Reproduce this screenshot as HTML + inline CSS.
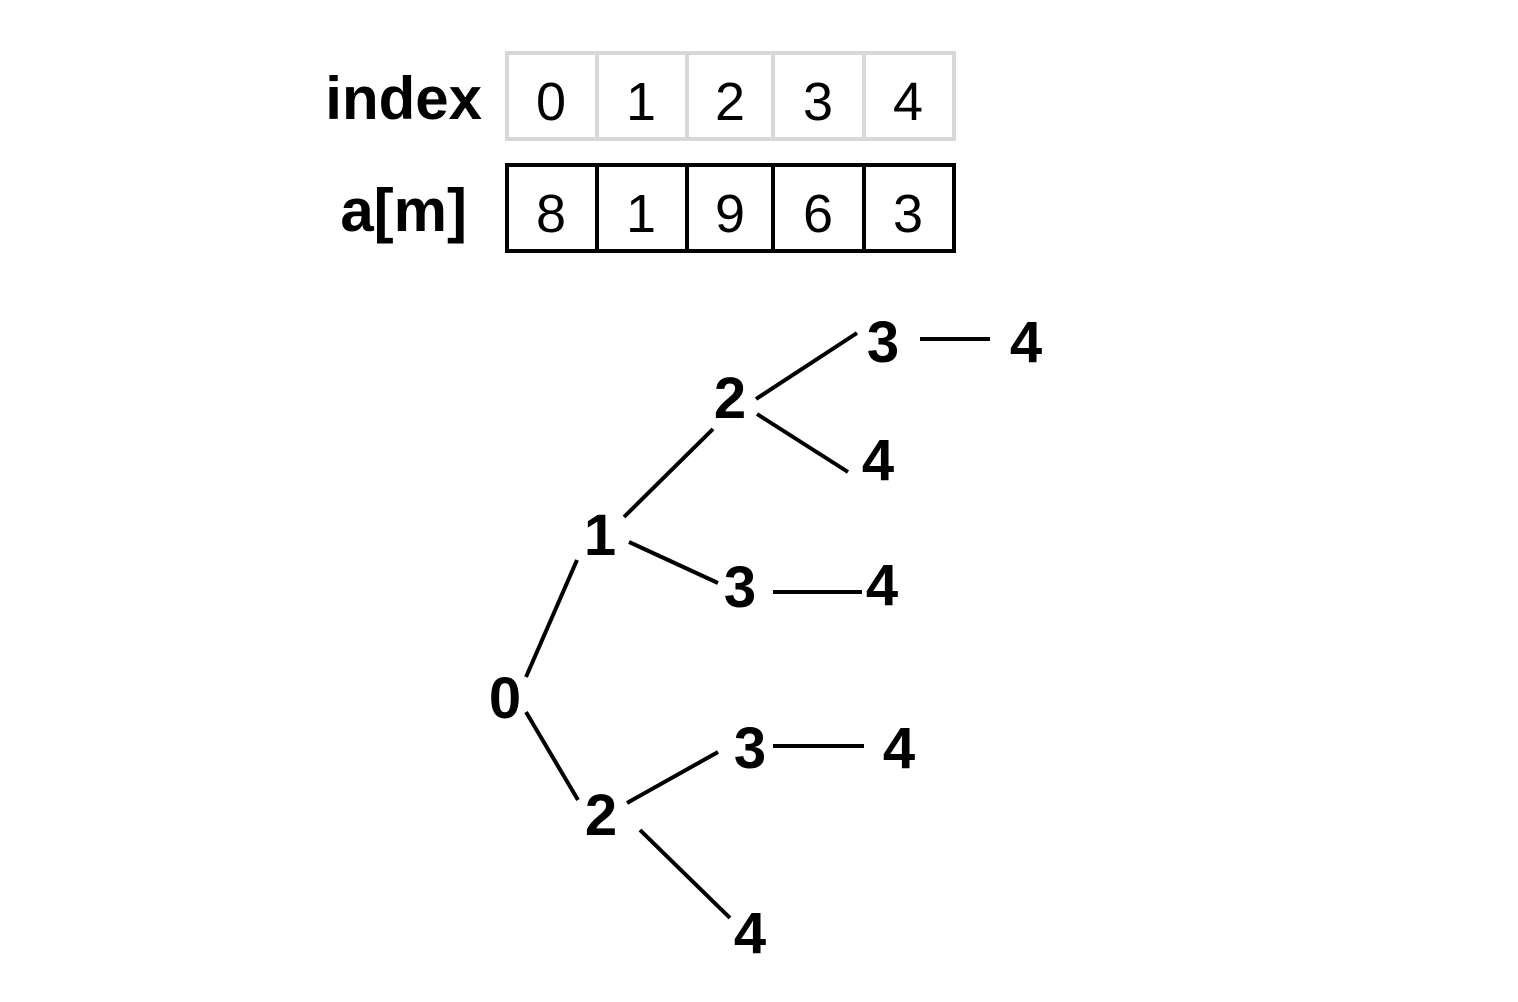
<!DOCTYPE html>
<html><head><meta charset="utf-8"><style>html,body{margin:0;padding:0;background:#fff}svg{display:block}</style></head>
<body>
<svg width="1518" height="1002" viewBox="0 0 1518 1002" xmlns="http://www.w3.org/2000/svg">
<g font-family="Liberation Sans, sans-serif">
<text x="482" y="119" font-size="60" font-weight="bold" text-anchor="end">index</text>
<text x="467" y="231" font-size="60" font-weight="bold" text-anchor="end">a[m]</text>
<g fill="none" stroke="#d8d8d8" stroke-width="4">
<rect x="507" y="53" width="447" height="86"/>
<line x1="597" y1="53" x2="597" y2="139"/><line x1="687" y1="53" x2="687" y2="139"/>
<line x1="773" y1="53" x2="773" y2="139"/><line x1="864" y1="53" x2="864" y2="139"/>
</g>
<g fill="none" stroke="#000" stroke-width="4">
<rect x="507" y="165" width="447" height="86"/>
<line x1="597" y1="165" x2="597" y2="251"/><line x1="687" y1="165" x2="687" y2="251"/>
<line x1="773" y1="165" x2="773" y2="251"/><line x1="864" y1="165" x2="864" y2="251"/>
</g>
<g font-size="54" text-anchor="middle">
<text x="551" y="120">0</text><text x="641" y="120">1</text><text x="730" y="120">2</text><text x="818" y="120">3</text><text x="908" y="120">4</text>
<text x="551" y="232">8</text><text x="641" y="232">1</text><text x="730" y="232">9</text><text x="818" y="232">6</text><text x="908" y="232">3</text>
</g>
<g font-size="58" font-weight="bold" text-anchor="middle">
<text x="883" y="362">3</text><text x="1026" y="362">4</text>
<text x="730" y="418">2</text><text x="878" y="480">4</text>
<text x="600" y="555">1</text><text x="740" y="607">3</text><text x="882" y="605">4</text>
<text x="505" y="718">0</text>
<text x="750" y="768">3</text><text x="899" y="768">4</text>
<text x="601" y="835">2</text><text x="750" y="953">4</text>
</g>
<g stroke="#000" stroke-width="4">
<line x1="756" y1="399" x2="857" y2="333"/>
<line x1="920" y1="339" x2="990" y2="339"/>
<line x1="757" y1="414" x2="848" y2="472"/>
<line x1="624" y1="517" x2="713" y2="429"/>
<line x1="629" y1="542" x2="718" y2="583"/>
<line x1="773" y1="592" x2="862" y2="592"/>
<line x1="526" y1="677" x2="577" y2="560"/>
<line x1="526" y1="712" x2="578" y2="800"/>
<line x1="627" y1="803" x2="718" y2="752"/>
<line x1="773" y1="746" x2="864" y2="746"/>
<line x1="640" y1="830" x2="730" y2="918"/>
</g>
</g>
</svg>
</body></html>
